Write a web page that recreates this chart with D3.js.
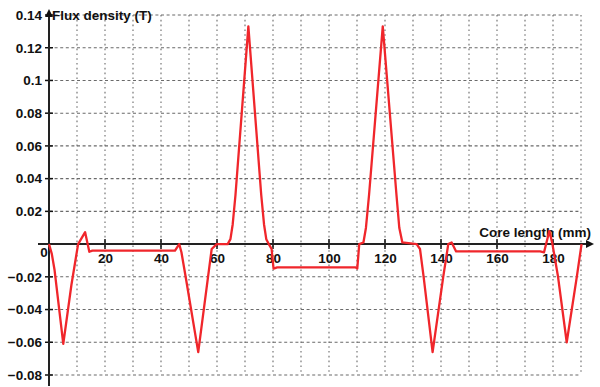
<!DOCTYPE html>
<html>
<head>
<meta charset="utf-8">
<script src="https://cdn.jsdelivr.net/npm/d3@7"></script>
<style>
  html, body { margin: 0; padding: 0; background: #fff; }
  svg { display: block; }
  text { font-family: "Liberation Sans", Arial, sans-serif; fill: #111; }
</style>
</head>
<body>
<svg id="chart" width="600" height="387"></svg>
<script>
// Axial flux density profile along the core
const coreLength = [0, 1, 2, 5.1, 8, 10.4, 12.9, 14.4, 15.5, 45, 46.5, 47.3, 48.8, 53.3, 56.8, 58.1, 59.9,
  63.8, 64.8, 65.6, 66.6, 71.2, 75.8, 76.8, 77.6, 78.5, 79.5, 80.2, 81.5, 109.5, 110.1, 110.8, 112.3, 113.2, 114.3,
  119.2, 124.1, 125.1, 126.2, 131.3, 132.5, 133.8, 137.0, 140.8, 142.6, 143.8, 145.4, 175.4, 176.8,
  178.7, 179.8, 181.8, 184.9, 188.5, 190.2];
const fluxDensity = [0, -0.006, -0.016, -0.061, -0.025, 0, 0.0073, -0.0047, -0.004, -0.004, 0, -0.005, -0.02, -0.066, -0.02, -0.003, 0,
  0, 0.003, 0.012, 0.03, 0.133, 0.03, 0.012, 0.003, 0, -0.003, -0.015, -0.0142, -0.0142, -0.015, 0, 0.001, 0.01, 0.03,
  0.133, 0.03, 0.01, 0.001, 0, -0.003, -0.02, -0.066, -0.02, 0, 0.001, -0.0045, -0.0045, -0.005,
  0.008, 0, -0.02, -0.06, -0.02, 0];

const xTickValues = [20, 40, 60, 80, 100, 120, 140, 160, 180];
const yTickValues = [-0.08, -0.06, -0.04, -0.02, 0.02, 0.04, 0.06, 0.08, 0.1, 0.12, 0.14];
const xGridValues = d3.range(10, 191, 10);
const yGridValues = d3.range(-0.08, 0.1401, 0.02);
const xTitle = "Core length (mm)";
const yTitle = "Flux density (T)";

const svg = d3.select("#chart");
const x = d3.scaleLinear().domain([0, 190]).range([49, 581]);
const y = d3.scaleLinear().domain([-0.08, 0.14]).range([375, 15]);

// grid
const grid = svg.append("g");
grid.selectAll("line.h").data(yGridValues).join("line")
  .attr("x1", x(0)).attr("x2", x(190))
  .attr("y1", d => y(d)).attr("y2", d => y(d))
  .attr("stroke", "#6a6a6a").attr("stroke-width", 1.1).attr("stroke-dasharray", "3,2.6");
grid.selectAll("line.v").data(xGridValues).join("line")
  .attr("x1", d => x(d)).attr("x2", d => x(d))
  .attr("y1", y(0.14)).attr("y2", y(-0.08))
  .attr("stroke", "#6a6a6a").attr("stroke-width", 1.1).attr("stroke-dasharray", "1.6,3.2");

// axes through the origin
const xAxis = d3.axisBottom(x).tickValues(xTickValues).tickSize(0).tickPadding(9)
  .tickFormat(d3.format("d"));
const gx = svg.append("g").attr("transform", `translate(0,${y(0)})`).call(xAxis);
gx.select(".domain").remove();
gx.selectAll("text").attr("font-size", 13.5).attr("font-weight", "bold").attr("fill", "#111");

const yAxis = d3.axisLeft(y).tickValues(yTickValues).tickSize(0).tickPadding(7)
  .tickFormat(d => d3.format("")(+d.toFixed(2)));
const gy = svg.append("g").attr("transform", `translate(${x(0)},0)`).call(yAxis);
gy.select(".domain").remove();
gy.selectAll("text").attr("font-size", 13.5).attr("font-weight", "bold").attr("fill", "#111");

// tick marks crossing the axes
svg.append("g").selectAll("line").data(xTickValues).join("line")
  .attr("x1", d => x(d)).attr("x2", d => x(d))
  .attr("y1", y(0) - 5).attr("y2", y(0) + 5)
  .attr("stroke", "#111").attr("stroke-width", 1.5);
svg.append("g").selectAll("line").data(yTickValues).join("line")
  .attr("x1", x(0) - 4).attr("x2", x(0) + 4)
  .attr("y1", d => y(d)).attr("y2", d => y(d))
  .attr("stroke", "#111").attr("stroke-width", 1.5);

svg.append("line").attr("x1", 38).attr("x2", 590).attr("y1", y(0)).attr("y2", y(0))
  .attr("stroke", "#222").attr("stroke-width", 2);
svg.append("line").attr("x1", x(0)).attr("x2", x(0)).attr("y1", 386).attr("y2", 12)
  .attr("stroke", "#222").attr("stroke-width", 2);
svg.append("path").attr("d", `M594,${y(0)} l-8,-4 l0,8 z`).attr("fill", "#111");
svg.append("path").attr("d", `M${x(0)},9 l-4,8 l8,0 z`).attr("fill", "#111");

// origin label
svg.append("text").attr("x", x(0) - 5).attr("y", y(0) + 13)
  .attr("text-anchor", "middle").attr("font-size", 13.5).attr("font-weight", "bold").text("0");

// axis titles
svg.append("text").attr("x", x(0) + 3).attr("y", 20).attr("font-size", 13.5)
  .attr("font-weight", "bold").attr("fill", "#111").text(yTitle);
svg.append("text").attr("x", 591).attr("y", y(0) - 7).attr("text-anchor", "end").attr("font-size", 13.5)
  .attr("font-weight", "bold").text(xTitle);

// curve
const pts = coreLength.map((c, i) => [c, fluxDensity[i]]);
svg.append("path").datum(pts)
  .attr("fill", "none").attr("stroke", "#f0262b").attr("stroke-width", 2.3)
  .attr("stroke-linejoin", "round")
  .attr("d", d3.line().x(d => x(d[0])).y(d => y(d[1])));
</script>
</body>
</html>
